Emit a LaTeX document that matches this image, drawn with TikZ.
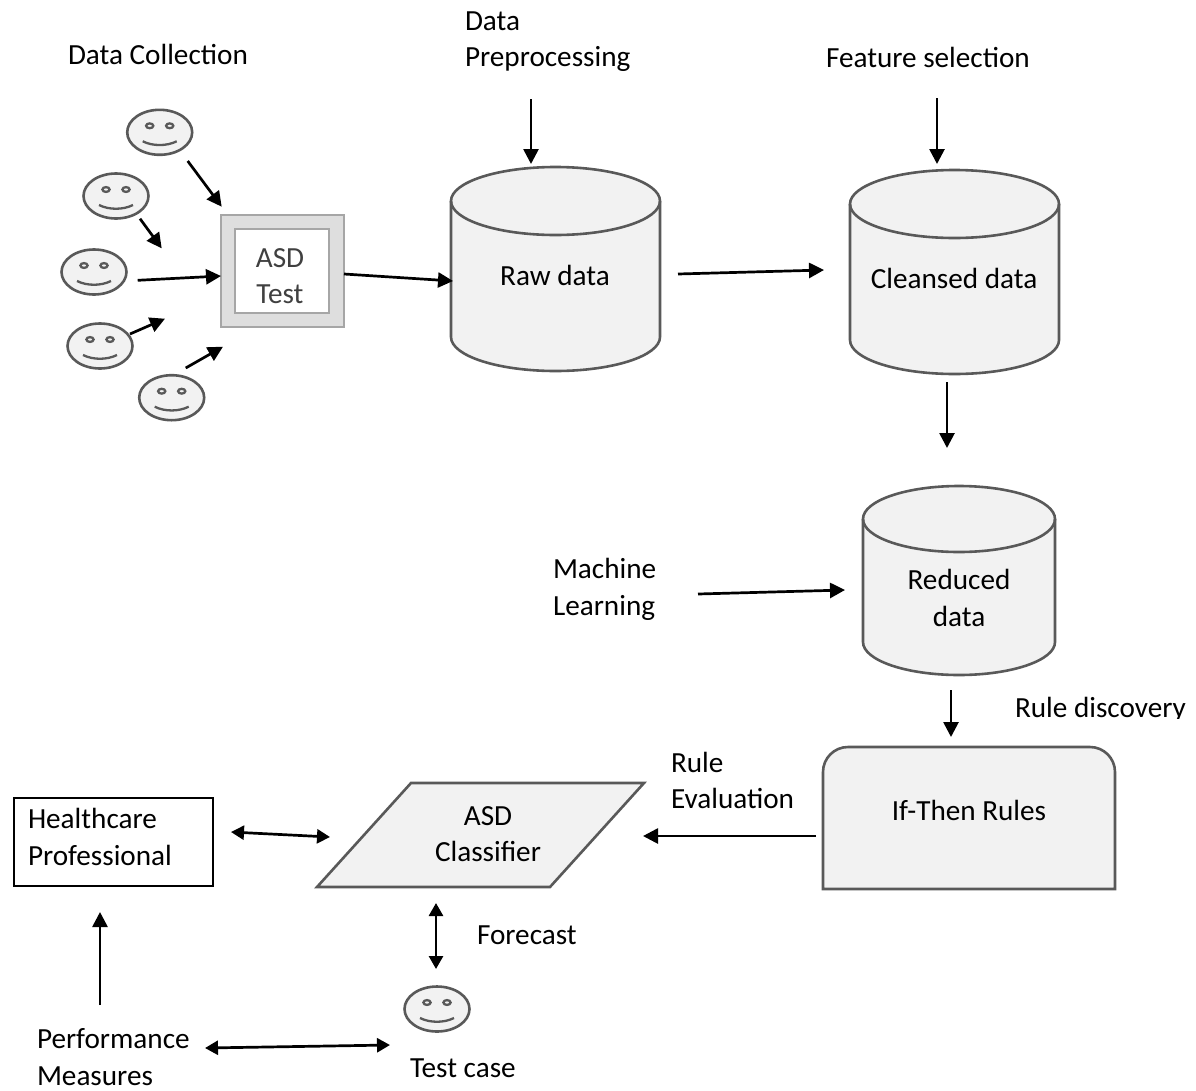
\documentclass[tikz,border=0pt]{standalone}
\usepackage{fontspec}
\setmainfont{Carlito}
\usetikzlibrary{arrows.meta,shapes.geometric,calc}
\definecolor{edgegray}{HTML}{595959}
\definecolor{fillgray}{HTML}{F2F2F2}
\tikzset{
  x=1pt,y=-1pt,
  arr/.style={line width=2.7pt,black,-{Triangle[length=15pt,width=15pt]}},
  biarr/.style={line width=2.7pt,black,{Triangle[length=13pt,width=14pt]}-{Triangle[length=13pt,width=14pt]}},
  lbl/.style={inner sep=0pt,outer sep=0pt,font=\fontsize{29.2}{36.5}\selectfont,text=black},
  leftlbl/.style={lbl,align=left,anchor=base west},
  shapeline/.style={draw=edgegray,line width=2.6pt},
  face/.style={ellipse,shapeline,fill=fillgray,minimum width=65pt,minimum height=45pt,inner sep=0pt},
}
\newcommand{\smileyface}[3]{%
  \node[face] (#1) at (#2,#3) {};
  \draw[edgegray,line width=2.3pt,fill=fillgray] ($(#1)+(-10,-6.5)$) ellipse [x radius=3.6pt,y radius=2.4pt];
  \draw[edgegray,line width=2.3pt,fill=fillgray] ($(#1)+(10,-6.5)$) ellipse [x radius=3.6pt,y radius=2.4pt];
  \draw[edgegray,line width=2.3pt] ($(#1)+(-17,9)$) .. controls ($(#1)+(-7,14)$) and ($(#1)+(7,14)$) .. ($(#1)+(17,9)$);
}
\newcommand{\drum}[7]{% name, left, right, top, ry, bottom, fill
  \path[shapeline,fill=#7] (#2,#4+#5) -- (#2,#6-#5)
     arc[start angle=180,end angle=0,x radius={(#3-#2)/2},y radius=#5]
     -- (#3,#4+#5)
     arc[start angle=0,end angle=-180,x radius={(#3-#2)/2},y radius=#5] -- cycle;
  \draw[edgegray,line width=2.6pt] (#2,#4+#5) arc[start angle=180,end angle=0,x radius={(#3-#2)/2},y radius=#5];
  \coordinate (#1) at ({(#2+#3)/2},{(#4+#6)/2});
}
\begin{document}
\begin{tikzpicture}
\useasboundingbox (0,0) rectangle (1196,1090);

% faces
\smileyface{s1}{159.7}{132.3}
\smileyface{s2}{116}{196}
\smileyface{s3}{94}{272}
\smileyface{s4}{100}{346}
\smileyface{s5}{171.7}{397.7}
\smileyface{s6}{437}{1009}

% ASD test
\node[draw=black!35,line width=2.4pt,fill=black!13,minimum width=123pt,minimum height=112pt,inner sep=0pt] (asdouter) at (282.2,270.8) {};
\node[draw=black!35,line width=2.4pt,fill=white,minimum width=94pt,minimum height=84pt,inner sep=0pt] (asdinner) at (282.2,270.8) {};
\node[lbl,align=center,text=black!75] (asdtext) at (280,276) {ASD\\Test};

% drums
\drum{rawc}{451}{660}{167}{34}{371}{fillgray}
\drum{clnc}{850}{1059}{170}{34}{374}{fillgray}
\drum{redc}{863}{1055}{486}{33}{675}{fillgray}
\node[lbl] (raw) at (555,275) {Raw data};
\node[lbl] (cleansed) at (954,278) {Cleansed data};
\node[lbl,align=center] (reduced) at (959,598) {Reduced\\data};

% rules
\draw[shapeline,fill=fillgray] (823,889) -- (823,772) arc[start angle=180,end angle=270,radius=25]
  -- (1090,747) arc[start angle=270,end angle=360,radius=25] -- (1115,889) -- cycle;
\node[lbl] (rules) at (969,810) {If-Then Rules};

% classifier
\draw[shapeline,fill=fillgray] (317,887) -- (411,783) -- (644,783) -- (550,887) -- cycle;
\node[lbl,align=center] (classifier) at (488,834) {ASD\\Classifier};

% healthcare
\node[draw=black,line width=2.2pt,fill=white,minimum width=199pt,minimum height=88pt,inner sep=0pt,anchor=north west] (hp) at (13,797) {};
\node[leftlbl] (hptext) at (28,865) {Healthcare\\Professional};

% labels
\node[leftlbl] (dc) at (68,64.5) {Data Collection};
\node[leftlbl] (dp) at (465,66.5) {Data\\Preprocessing};
\node[leftlbl] (fs) at (826,67.5) {Feature selection};
\node[leftlbl] (ml) at (553,615) {Machine\\Learning};
\begin{scope}
  \clip (1000,680) rectangle (1196,718);
  \node[leftlbl] (rd) at (1015,717.5) {Rule discovery};
\end{scope}
\node[leftlbl] (re) at (671,808.5) {Rule\\Evaluation};
\node[leftlbl] (fc) at (477,944) {Forecast};
\node[leftlbl] (pm) at (37,1085) {Performance\\Measures};
\node[leftlbl] (tc) at (410,1077) {Test case};

% free connector ends
\coordinate (a1) at (187.7,161);   \coordinate (b1) at (221.7,206.7);
\coordinate (a2) at (140,218.7);   \coordinate (b2) at (161.7,248.3);
\coordinate (a3) at (137.7,280.3); \coordinate (b3) at (221,276);
\coordinate (a4) at (130,334);     \coordinate (b4) at (165,318.7);
\coordinate (a5) at (185.7,368);   \coordinate (b5) at (223,346.7);
\coordinate (a6) at (344,274);     \coordinate (b6) at (453,281);
\coordinate (a7) at (531,99);      \coordinate (b7) at (531,164);
\coordinate (a8) at (937,98);      \coordinate (b8) at (937,164);
\coordinate (a9) at (678,274);     \coordinate (b9) at (824,270);
\coordinate (a10) at (947,382);    \coordinate (b10) at (947,448);
\coordinate (a11) at (698,594);    \coordinate (b11) at (845,590);
\coordinate (a12) at (951,690);    \coordinate (b12) at (951,737);
\coordinate (a13) at (816,836);    \coordinate (b13) at (643,836);
\coordinate (a14) at (231,832);    \coordinate (b14) at (330,837);
\coordinate (a15) at (436,903);    \coordinate (b15) at (436,969);
\coordinate (a16) at (205,1048);   \coordinate (b16) at (390,1045);
\coordinate (a17) at (100,1005);   \coordinate (b17) at (100,912);

\foreach \i in {1,...,13,17} \draw[arr] (a\i) -- (b\i);
\foreach \i in {14,15,16} \draw[biarr] (a\i) -- (b\i);
\end{tikzpicture}
\end{document}
